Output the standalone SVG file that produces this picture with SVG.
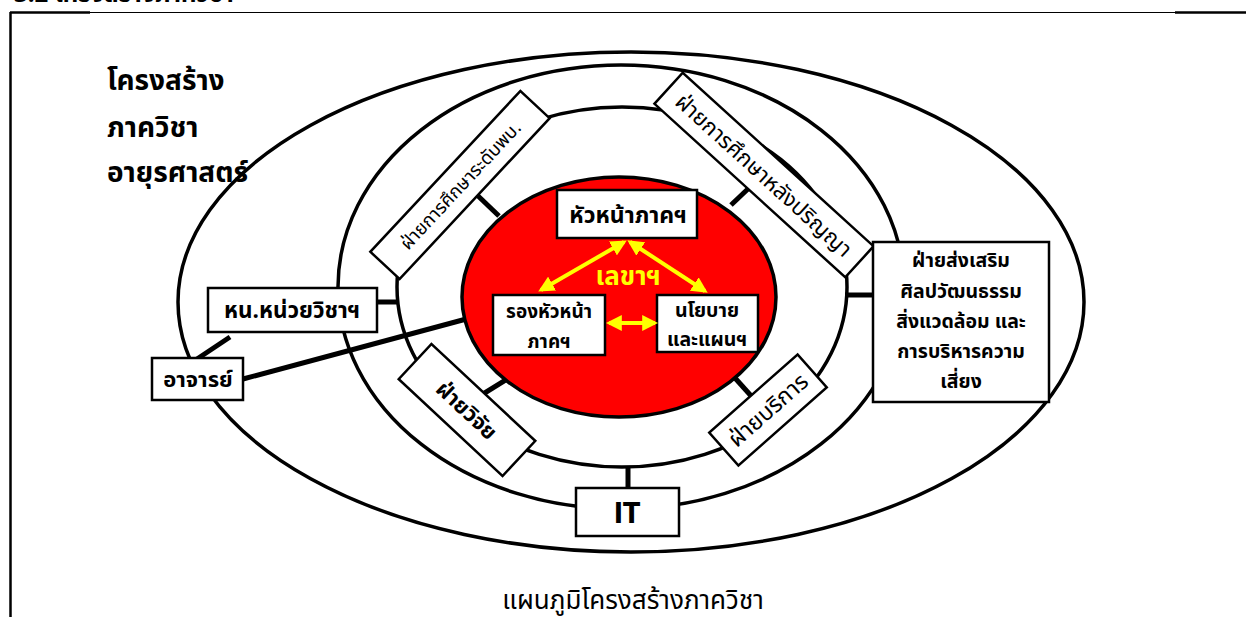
<svg xmlns="http://www.w3.org/2000/svg" width="1246" height="617" viewBox="0 0 1246 617">
<defs>
<style>
text{font-family:"Noto Sans Thai","Noto Sans","DejaVu Sans",sans-serif;fill:#000}
.b{font-weight:bold}
.box{fill:#fff;stroke:#000;stroke-width:2.5}
.ring{fill:none;stroke:#000;stroke-width:3.5}
.con{stroke:#000;stroke-width:5;fill:none}
.ya{stroke:#ffff00;stroke-width:4;fill:none;marker-start:url(#ah);marker-end:url(#ah)}
</style>
<marker id="ah" viewBox="0 0 10 10" refX="8" refY="5" markerWidth="4" markerHeight="4" orient="auto-start-reverse" markerUnits="strokeWidth">
<path d="M0,0 L10,5 L0,10 z" fill="#ffff00"/>
</marker>
</defs>
<rect width="1246" height="617" fill="#fff"/>
<g id="frame">
<line x1="10" y1="12.5" x2="1246" y2="12.5" stroke="#000" stroke-width="1.2"/>
<line x1="10" y1="12.5" x2="90" y2="12.5" stroke="#000" stroke-width="2.5"/>
<line x1="1175" y1="12.5" x2="1246" y2="12.5" stroke="#000" stroke-width="2.5"/>
<line x1="10.5" y1="12" x2="10.5" y2="617" stroke="#000" stroke-width="2.5"/>
<text x="14" y="2" class="b" font-size="24">3.2  โครงสร้างภาควิชา</text>
</g>
<g id="rings">
<ellipse class="ring" cx="631" cy="302" rx="453" ry="250"/>
<ellipse class="ring" cx="621" cy="287" rx="283" ry="222"/>
<ellipse class="ring" cx="622" cy="287" rx="225" ry="180"/>
</g>
<g id="connectors">
<line class="con" x1="243" y1="379" x2="470" y2="318"/>
<line class="con" x1="230" y1="337" x2="197" y2="359"/>
<line class="con" x1="377" y1="302" x2="399" y2="302"/>
<line class="con" x1="476" y1="194" x2="499" y2="216"/>
<line class="con" x1="731" y1="205" x2="750" y2="187"/>
<line class="con" x1="483" y1="394" x2="509" y2="378"/>
<line class="con" x1="735" y1="378" x2="753" y2="398"/>
<line class="con" x1="628" y1="466" x2="628" y2="489"/>
<line class="con" x1="845" y1="295" x2="875" y2="295"/>
</g>
<g id="core">
<ellipse cx="619" cy="297" rx="157" ry="120" fill="#ff0000" stroke="#000" stroke-width="3.5"/>
</g>
<g id="title">
<text x="107" y="90" class="b" font-size="28">โครงสร้าง</text>
<text x="107" y="137" class="b" font-size="28">ภาควิชา</text>
<text x="107" y="182" class="b" font-size="28">อายุรศาสตร์</text>
</g>
<g id="head">
<rect class="box" x="557" y="190" width="140" height="48"/>
<text x="628" y="223" class="b" font-size="23" text-anchor="middle">หัวหน้าภาคฯ</text>
</g>
<g id="deputy">
<rect class="box" x="493" y="295" width="112" height="60"/>
<text x="549" y="318" class="b" font-size="19" text-anchor="middle">รองหัวหน้า</text>
<text x="549" y="348" class="b" font-size="19" text-anchor="middle">ภาคฯ</text>
</g>
<g id="policy">
<rect class="box" x="657" y="295" width="101" height="57"/>
<text x="707" y="317" class="b" font-size="19.5" text-anchor="middle">นโยบาย</text>
<text x="707" y="346" class="b" font-size="19.5" text-anchor="middle">และแผนฯ</text>
</g>
<g id="secretary">
<text x="628" y="285" class="b" font-size="26" text-anchor="middle" style="fill:#ffff00">เลขาฯ</text>
</g>
<g id="arrows">
<line class="ya" x1="624" y1="242" x2="541" y2="290"/>
<line class="ya" x1="630" y1="242" x2="705" y2="291"/>
<line class="ya" x1="609" y1="323" x2="655" y2="323"/>
</g>
<g id="unit-head">
<rect class="box" x="208" y="288" width="169" height="44"/>
<text x="292" y="318" class="b" font-size="22.5" text-anchor="middle">หน.หน่วยวิชาฯ</text>
</g>
<g id="teacher">
<rect class="box" x="152" y="358" width="91" height="42"/>
<text x="198" y="387" class="b" font-size="22" text-anchor="middle">อาจารย์</text>
</g>
<g id="undergrad" transform="translate(460 185) rotate(-47)">
<rect class="box" x="-110" y="-20" width="220" height="40"/>
<text x="0" y="7" font-size="18.5" text-anchor="middle">ฝ่ายการศึกษาระดับพบ.</text>
</g>
<g id="postgrad" transform="translate(764 175) rotate(42.3)">
<rect class="box" x="-129" y="-21" width="258" height="42"/>
<text x="0" y="8" font-size="22" text-anchor="middle">ฝ่ายการศึกษาหลังปริญญา</text>
</g>
<g id="research" transform="translate(467 410) rotate(43)">
<rect class="box" x="-71" y="-24" width="142" height="48"/>
<text x="0" y="8" class="b" font-size="21.5" text-anchor="middle">ฝ่ายวิจัย</text>
</g>
<g id="service" transform="translate(768 410) rotate(-41.5)">
<rect class="box" x="-59" y="-22" width="118" height="44"/>
<text x="0" y="8" font-size="23" text-anchor="middle">ฝ่ายบริการ</text>
</g>
<g id="it">
<rect class="box" x="576" y="488" width="103" height="48"/>
<text x="627" y="523" class="b" font-size="28" text-anchor="middle" style="font-family:'DejaVu Sans Condensed','Liberation Sans',sans-serif">IT</text>
</g>
<g id="promotion">
<rect class="box" x="873" y="242" width="176" height="160"/>
<text x="961" y="267" class="b" font-size="19.5" text-anchor="middle">ฝ่ายส่งเสริม</text>
<text x="961" y="298" class="b" font-size="19.5" text-anchor="middle">ศิลปวัฒนธรรม</text>
<text x="961" y="328" class="b" font-size="19.5" text-anchor="middle">สิ่งแวดล้อม และ</text>
<text x="961" y="358" class="b" font-size="19.5" text-anchor="middle">การบริหารความ</text>
<text x="961" y="388" class="b" font-size="19.5" text-anchor="middle">เสี่ยง</text>
</g>
<g id="caption">
<text x="633" y="609" font-size="26" text-anchor="middle">แผนภูมิโครงสร้างภาควิชา</text>
</g>
</svg>
